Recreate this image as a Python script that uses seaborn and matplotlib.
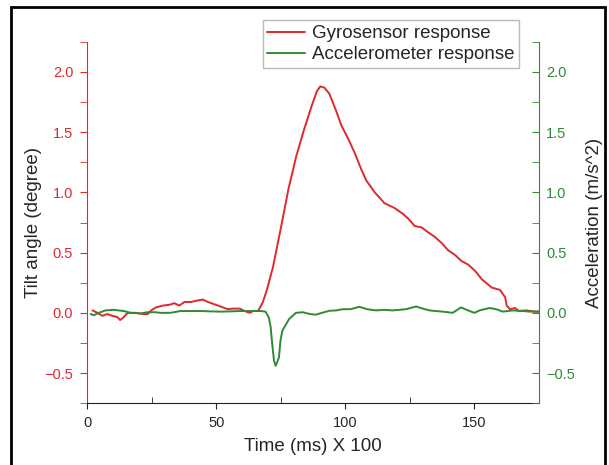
import numpy as np
import pandas as pd
import matplotlib
matplotlib.use("Agg")
import matplotlib.pyplot as plt
import seaborn as sns
from matplotlib.ticker import MultipleLocator, AutoMinorLocator
from matplotlib.patches import Rectangle

# %%
# gyro (tilt angle, degree)
gyro_time = [2.1, 4.0, 5.9, 7.8, 9.8, 11.7, 12.8, 14.0, 15.7, 17.5, 19.0, 21.6, 23.5, 24.8,
             26.7, 29.3, 31.9, 33.8, 35.7, 37.7, 40.3, 42.2, 44.8, 46.8, 49.4, 52.0, 54.5,
             56.5, 59.1, 61.0, 63.0, 64.3, 66.2, 67.9, 69.5, 72.0, 75.0, 78.0, 81.0, 84.0,
             87.0, 89.0, 90.3, 91.9, 93.8, 96.4, 98.4, 101.0, 103.6, 106.2, 108.1, 111.4,
             115.2, 119.1, 122.4, 124.5, 126.9, 129.5, 132.0, 134.7, 137.3, 139.8, 142.5,
             145.0, 147.6, 150.2, 152.8, 156.7, 159.9, 161.9, 162.5, 163.8, 165.8, 167.1,
             170.0, 173.6, 175.0]
gyro_tilt = [0.02, 0.0, -0.025, -0.01, -0.025, -0.035, -0.06, -0.04, 0.0, 0.0, 0.0, -0.01,
             -0.01, 0.02, 0.045, 0.06, 0.067, 0.08, 0.06, 0.09, 0.09, 0.10, 0.11, 0.09, 0.07,
             0.05, 0.03, 0.035, 0.035, 0.015, 0.0, 0.015, 0.015, 0.08, 0.18, 0.38, 0.70,
             1.03, 1.30, 1.52, 1.72, 1.84, 1.88, 1.87, 1.82, 1.68, 1.56, 1.45, 1.33, 1.19,
             1.10, 1.00, 0.91, 0.87, 0.82, 0.78, 0.72, 0.71, 0.67, 0.63, 0.58, 0.52, 0.48,
             0.43, 0.40, 0.35, 0.28, 0.21, 0.19, 0.13, 0.06, 0.03, 0.04, 0.015, 0.02, 0.01,
             0.01]

# accelerometer (m/s^2)
acc_time = [1.4, 2.6, 4.5, 7.1, 10.3, 14.2, 16.8, 20.7, 23.3, 26.5, 28.4, 32.3, 36.2, 40.0,
            44.0, 48.0, 51.7, 55.5, 59.4, 63.5, 67.2, 69.1, 70.4, 71.1, 71.7, 72.4, 73.0,
            73.6, 74.3, 74.9, 75.6, 76.9, 78.3, 80.9, 83.5, 86.3, 88.6, 91.0, 93.8, 96.5,
            99.0, 102.0, 105.4, 108.5, 111.9, 115.0, 118.3, 121.0, 123.5, 127.4, 130.0,
            132.6, 135.0, 137.7, 141.6, 144.8, 148.1, 150.0, 152.0, 155.8, 158.5, 161.0,
            164.9, 168.8, 171.5, 174.0, 175.0]
acc_val = [-0.01, -0.02, 0.0, 0.02, 0.025, 0.015, 0.0, -0.005, 0.005, 0.005, 0.0, 0.0, 0.015,
           0.015, 0.015, 0.012, 0.01, 0.012, 0.015, 0.015, 0.015, 0.01, -0.04, -0.12, -0.26,
           -0.40, -0.44, -0.41, -0.37, -0.23, -0.15, -0.10, -0.05, 0.0, 0.005, -0.01,
           -0.015, 0.0, 0.017, 0.02, 0.03, 0.03, 0.05, 0.03, 0.02, 0.025, 0.02, 0.025, 0.03,
           0.053, 0.035, 0.02, 0.015, 0.01, 0.0, 0.045, 0.015, 0.0, 0.02, 0.04, 0.03, 0.01,
           0.02, 0.015, 0.01, 0.01, 0.01]

red = "#e0282e"
green = "#2e8b32"

gyro_df = pd.DataFrame({"time": gyro_time, "tilt": gyro_tilt})
acc_df = pd.DataFrame({"time": acc_time, "acc": acc_val})

# %%
sns.set_style("ticks")
plt.rcParams["font.family"] = ["Liberation Sans", "DejaVu Sans"]

fig, ax = plt.subplots(figsize=(6.09, 4.65), dpi=100)
fig.subplots_adjust(left=0.143, right=0.885, top=0.910, bottom=0.133)
ax2 = ax.twinx()

sns.lineplot(data=gyro_df, x="time", y="tilt", ax=ax, color=red, linewidth=1.4,
             label="Gyrosensor response", legend=False)
sns.lineplot(data=acc_df, x="time", y="acc", ax=ax2, color=green, linewidth=1.4,
             label="Accelerometer response", legend=False)

for a in (ax, ax2):
    a.set_xlim(0, 175)
    a.set_ylim(-0.75, 2.25)
    a.spines["top"].set_visible(False)
    a.yaxis.set_major_locator(MultipleLocator(0.5))
    a.yaxis.set_minor_locator(AutoMinorLocator(2))

ax.spines["right"].set_visible(False)
ax2.spines["left"].set_visible(False)
ax2.spines["bottom"].set_visible(False)
ax.spines["left"].set_color(red)
ax2.spines["right"].set_color(green)
ax.spines["bottom"].set_color("#222222")

ax.xaxis.set_major_locator(MultipleLocator(50))
ax.xaxis.set_minor_locator(AutoMinorLocator(2))

ax.tick_params(axis="y", which="both", direction="out", colors=red, labelsize=10.5,
               length=5, pad=5)
ax2.tick_params(axis="y", which="both", direction="in", colors=green, labelsize=10.5,
                length=5, pad=5)
ax.tick_params(axis="x", which="major", direction="out", length=4, labelsize=10.5,
               color="#222222", pad=5)
ax.tick_params(axis="x", which="minor", direction="in", length=4, color="#222222")

ax.set_xlabel("Time (ms) X 100", fontsize=13.5, labelpad=6)
ax.set_ylabel("Tilt angle (degree)", fontsize=13.5, labelpad=2)
ax2.set_ylabel("Acceleration (m/s^2)", fontsize=13.5, labelpad=8)

h1, l1 = ax.get_legend_handles_labels()
h2, l2 = ax2.get_legend_handles_labels()
fig.legend(h1 + h2, l1 + l2, loc="upper right", bbox_to_anchor=(0.853, 0.956),
           fontsize=13.5, frameon=True, fancybox=False, edgecolor="#aaaaaa",
           handlelength=2.0, handletextpad=0.4, labelspacing=0.2, borderpad=0.25,
           borderaxespad=0.0)

# outer frame
fig.patches.append(Rectangle((0.018, -0.05), 0.976, 1.035, transform=fig.transFigure,
                             fill=False, edgecolor="black", linewidth=2))

plt.savefig("out.png", dpi=100)
